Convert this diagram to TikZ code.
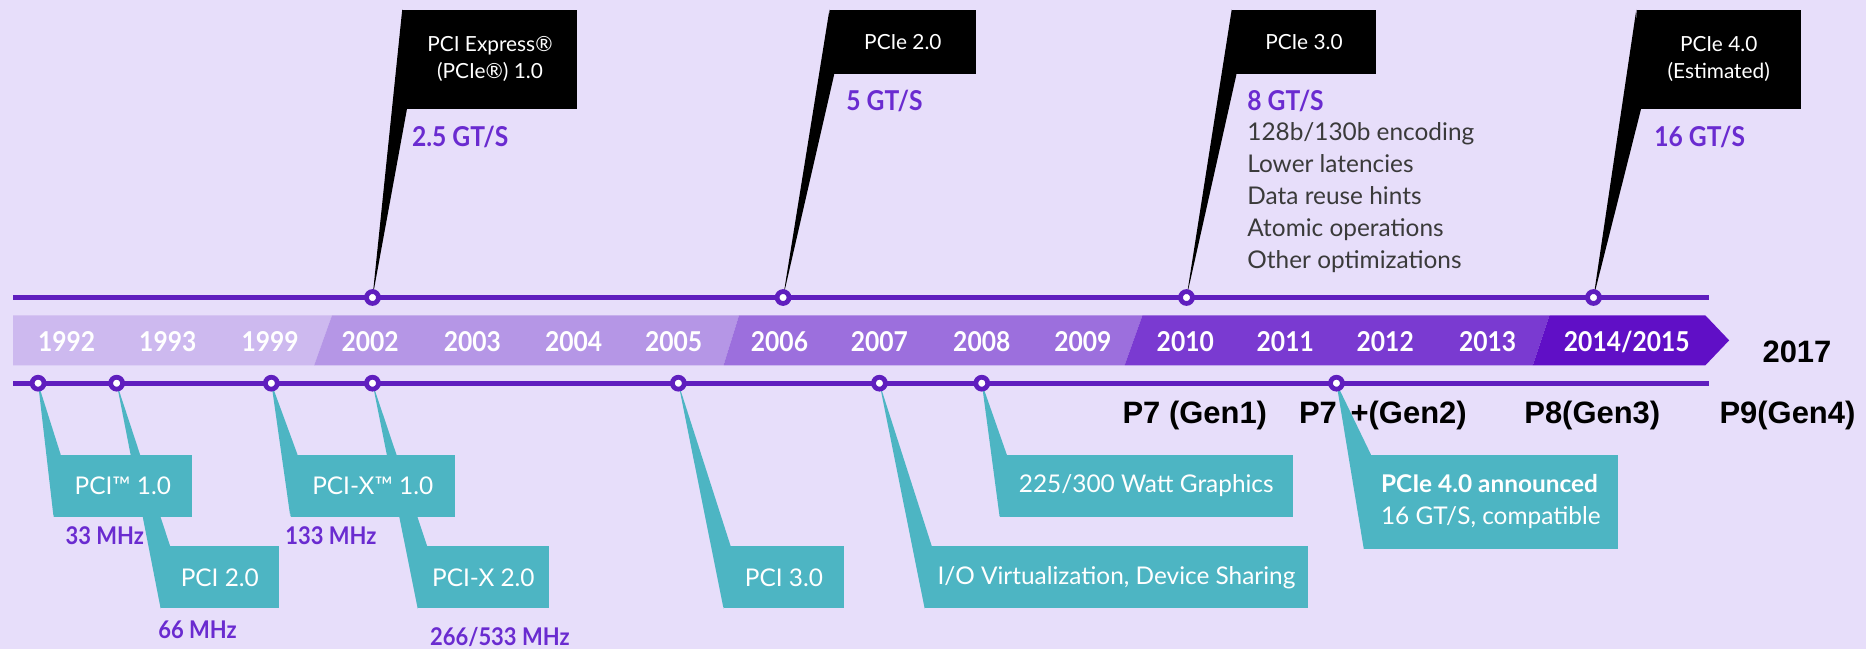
\documentclass[tikz,border=0pt]{standalone}
\usepackage{fontspec}
\setmainfont{Liberation Sans}
\newfontfamily\gothic[FakeStretch=0.9]{Lato}
\newfontfamily\gothicwide{Lato}
\usepackage{tikz}
\usetikzlibrary{calc}
\usepackage{xcolor}
\definecolor{pagebg}{HTML}{E7DEFA}
\definecolor{tlpurple}{HTML}{5F1EBE}
\definecolor{ratepurple}{HTML}{6A2BD0}
\definecolor{flagteal}{HTML}{4DB5C3}
\definecolor{bandA}{HTML}{CDB9EF}
\definecolor{bandB}{HTML}{B596E6}
\definecolor{bandC}{HTML}{9C6FDD}
\definecolor{bandD}{HTML}{7A3AD1}
\definecolor{bandE}{HTML}{600FC6}
\definecolor{notegray}{HTML}{3A3A3A}

\begin{document}
\begin{tikzpicture}[x=1pt, y=-1pt,
    dot/.style={circle, draw=tlpurple, line width=4pt, fill=white,
                minimum size=10pt, inner sep=0pt},
    tl/.style={line width=4pt, tlpurple},
    year/.style={text=white, inner sep=0pt,
                 font=\gothic\bfseries\fontsize{23}{26}\selectfont},
    specbox/.style={fill=black, text=white, align=center, anchor=north west,
                    inner sep=0pt, font=\gothicwide\fontsize{17.5}{23}\selectfont},
    rate/.style={anchor=west, inner sep=0pt, text=ratepurple,
                 font=\gothic\bfseries\fontsize{23}{26}\selectfont},
    eventbox/.style={fill=flagteal, text=white, align=center, anchor=north west,
                     inner sep=0pt, minimum height=52pt,
                     font=\gothicwide\fontsize{20.5}{27}\selectfont},
    clock/.style={text=ratepurple, inner sep=0pt,
                  font=\gothic\bfseries\fontsize{20.5}{22}\selectfont},
    gen/.style={inner sep=0pt, font=\bfseries\fontsize{26}{28}\selectfont}
  ]
    \fill[pagebg] (0,0) rectangle (1568,545);
    \useasboundingbox (0,0) rectangle (1568,545);

    % year band
    \fill[bandA] (11,265) -- (279,265) -- (264,307) -- (11,307) -- cycle;
    \fill[bandB] (279,265) -- (621,265) -- (608,307) -- (264,307) -- cycle;
    \fill[bandC] (621,265) -- (960,265) -- (945,307) -- (608,307) -- cycle;
    \fill[bandD] (960,265) -- (1302,265) -- (1288,307) -- (945,307) -- cycle;
    \fill[bandE] (1302,265) -- (1433,265) -- (1453,286) -- (1433,307)
                 -- (1288,307) -- cycle;
    \foreach \yr/\xx in {1992/56, 1993/141, 1999/227, 2002/311, 2003/397,
                         2004/482, 2005/566, 2006/655, 2007/739, 2008/825,
                         2009/910, 2010/996, 2011/1080, 2012/1164, 2013/1250}
      \node[year] (yr\yr) at (\xx,287) {\yr};
    \node[year] (yr2014) at (1367,287) {2014/2015};

    \coordinate (ustart) at (11,250);
    \coordinate (uend) at (1436,250);
    \coordinate (lstart) at (11,322);
    \coordinate (lend) at (1436,322);
    \draw[tl] (ustart) -- (uend);
    \draw[tl] (lstart) -- (lend);

    \foreach \yr/\xx in {2002/313, 2006/658, 2010/997, 2014/1339}
      \coordinate (c\yr) at (\xx,250);
    \foreach \yr/\xx in {1992/32, 1993/98, 1999/228, 2002/313, 2005/570,
                         2007/739, 2008/825, 2012/1123}
      \coordinate (l\yr) at (\xx,322);

    % specification flags
    \node[specbox, minimum width=147pt, minimum height=83pt] (pcie1) at (338,8)
      {PCI Express®\\(PCIe®) 1.0};
    \fill (c2002) -- (pcie1.north west) -- ($(pcie1.south west)+(4,0)$) -- cycle;
    \node[specbox, minimum width=123pt, minimum height=54pt] (pcie2) at (697,8)
      {PCIe 2.0};
    \fill (c2006) -- (pcie2.north west) -- ($(pcie2.south west)+(4,0)$) -- cycle;
    \node[specbox, minimum width=121pt, minimum height=54pt] (pcie3) at (1035,8)
      {PCIe 3.0};
    \fill (c2010) -- (pcie3.north west) -- ($(pcie3.south west)+(4,0)$) -- cycle;
    \node[specbox, minimum width=138pt, minimum height=83pt] (pcie4) at (1375,8)
      {PCIe 4.0\\(Estimated)};
    \fill (c2014) -- (pcie4.north west) -- ($(pcie4.south west)+(4,0)$) -- cycle;

    \node[rate] (rate1) at (346,115) {2.5 GT/S};
    \node[rate] (rate2) at (711,85) {5 GT/S};
    \node[rate] (rate3) at (1048,85) {8 GT/S};
    \node[rate] (rate4) at (1390,115) {16 GT/S};
    \node[anchor=north west, inner sep=0pt, align=left, text=notegray,
          font=\gothicwide\fontsize{20.5}{26.8}\selectfont] (feat3) at (1048,103)
      {128b/130b encoding\\Lower latencies\\Data reuse hints\\
       Atomic operations\\Other optimizations};

    % event flags
    \node[eventbox, minimum width=99pt] (pci2) at (135,459) {PCI 2.0};
    \fill[flagteal] (l1993) -- (pci2.south west) -- ($(pci2.north west)+(8,0)$) -- cycle;
    \node[eventbox, minimum width=116pt] (pci1) at (45,382) {PCI™ 1.0};
    \fill[flagteal] (l1992) -- (pci1.south west) -- ($(pci1.north west)+(6,0)$) -- cycle;
    \node[eventbox, minimum width=110pt] (pcix2) at (351,459) {PCI-X 2.0};
    \fill[flagteal] (l2002) -- (pcix2.south west) -- ($(pcix2.north west)+(8,0)$) -- cycle;
    \node[eventbox, minimum width=138pt] (pcix1) at (244,382) {PCI-X™ 1.0};
    \fill[flagteal] (l1999) -- (pcix1.south west) -- ($(pcix1.north west)+(6,0)$) -- cycle;
    \node[eventbox, minimum width=101pt] (pci3) at (608,459) {PCI 3.0};
    \fill[flagteal] (l2005) -- (pci3.south west) -- ($(pci3.north west)+(6,0)$) -- cycle;
    \node[eventbox, minimum width=322pt] (iov) at (777,459)
      {I/O Virtualization, Device Sharing};
    \fill[flagteal] (l2007) -- (iov.south west) -- ($(iov.north west)+(6,0)$) -- cycle;
    \node[eventbox, minimum width=246pt] (watt) at (840,382) {225/300 Watt Graphics};
    \fill[flagteal] (l2008) -- (watt.south west) -- ($(watt.north west)+(6,0)$) -- cycle;
    \node[eventbox, minimum width=213pt, minimum height=79pt, align=left]
      (announce) at (1146,382)
      {\textbf{PCIe 4.0 announced}\\16 GT/S, compatible};
    \fill[flagteal] (l2012) -- (announce.south west) -- ($(announce.north west)+(6,0)$) -- cycle;

    \node[clock] (mhz33) at (88,450) {33 MHz};
    \node[clock] (mhz66) at (166,529) {66 MHz};
    \node[clock] (mhz133) at (278,450) {133 MHz};
    \node[clock] (mhz266) at (420,535) {266/533 MHz};

    \foreach \yr in {2002, 2006, 2010, 2014}
      \node[dot] (dc\yr) at (c\yr) {};
    \foreach \yr in {1992, 1993, 1999, 2002, 2005, 2007, 2008, 2012}
      \node[dot] (dl\yr) at (l\yr) {};

    \node[gen] (g2017) at (1510,296) {2017};
    \node[gen] (gen1) at (1004,349) {P7 (Gen1)};
    \node[gen] (gen2) at (1162,349) {P7 \,+(Gen2)};
    \node[gen] (gen3) at (1338,349) {P8(Gen3)};
    \node[gen] (gen4) at (1502,349) {P9(Gen4)};
\end{tikzpicture}
\end{document}
